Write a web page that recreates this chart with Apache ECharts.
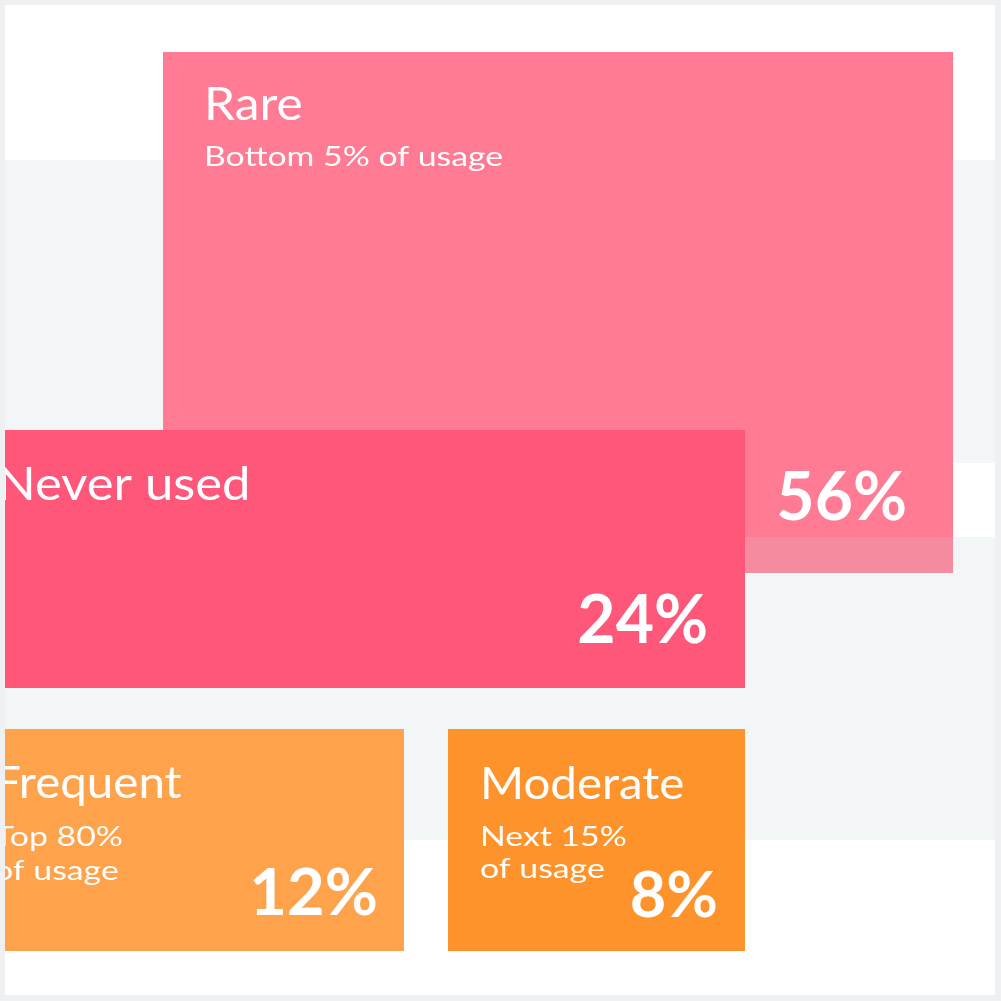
<!DOCTYPE html>
<html>
<head>
<meta charset="utf-8">
<script src="https://cdn.jsdelivr.net/npm/echarts@6/dist/echarts.min.js"></script>
<style>
  html, body { margin: 0; padding: 0; background: #fff; }
  #chart { width: 1001px; height: 1001px; }
</style>
</head>
<body>
<div id="chart"></div>
<script>
// data
var categories = ["Rare", "Never used", "Frequent", "Moderate"];
var shares = [56, 24, 12, 8];
var subtitles = ["Bottom 5% of usage", "", "Top 80%\nof usage", "Next 15%\nof usage"];

// look
var colors = ["#ff7b93", "#ff5779", "#ffa24c", "#ff932b"];
var FONT = "Lato, 'Open Sans', sans-serif";

// where each block sits on the 1001 x 1001 canvas (layout only)
var layout = [
	{ box: [163, 52, 953, 573], textX: 204, titleY: 105, titleSize: 46, subTop: 143, subLine: 30, pctX: 907, pctY: 499, pctSize: 66, fade: [537, 573] },
	{ box: [-40, 430, 745, 688], textX: -3, titleY: 485, titleSize: 47, pctX: 708, pctY: 622, pctSize: 66 },
	{ box: [-40, 729, 404, 951], textX: -6, titleY: 784, titleSize: 44, subTop: 821, subLine: 34, pctX: 378, pctY: 894, pctSize: 65 },
	{ box: [448, 729, 745, 951], textX: 480, titleY: 785, titleSize: 44, subTop: 822, subLine: 32, pctX: 718, pctY: 897, pctSize: 63 }
];

var chart = echarts.init(document.getElementById("chart"), null, { renderer: "canvas" });

function renderItem(params, api) {
	var i = api.value(0);
	var L = layout[i];
	var p0 = api.coord([L.box[0], L.box[1]]);
	var p1 = api.coord([L.box[2], L.box[3]]);
	var children = [];
	children.push({
		type: "rect",
		shape: { x: p0[0], y: p0[1], width: p1[0] - p0[0], height: p1[1] - p0[1] },
		style: { fill: colors[i] }
	});
	if (L.fade) {
		var f0 = api.coord([L.box[0], L.fade[0]]);
		var f1 = api.coord([L.box[2], L.fade[1]]);
		children.push({
			type: "rect",
			shape: { x: f0[0], y: f0[1], width: f1[0] - f0[0], height: f1[1] - f0[1] },
			style: { fill: "#f48b9f" }
		});
	}
	var t = api.coord([L.textX, L.titleY]);
	children.push({
		type: "text",
		x: t[0],
		y: t[1],
		scaleX: 1.08,
		style: {
			text: categories[i],
			fill: "#fff",
			fontFamily: FONT,
			fontWeight: 400,
			fontSize: L.titleSize,
			align: "left",
			verticalAlign: "middle"
		}
	});
	if (subtitles[i]) {
		var s = api.coord([L.textX, L.subTop]);
		children.push({
			type: "text",
			x: s[0],
			y: s[1],
			scaleX: 1.3,
			style: {
				text: subtitles[i],
				fill: "#fff",
				fontFamily: FONT,
				fontWeight: 400,
				fontSize: 26,
				lineHeight: L.subLine,
				align: "left",
				verticalAlign: "top"
			}
		});
	}
	var p = api.coord([L.pctX, L.pctY]);
	children.push({
		type: "text",
		x: p[0],
		y: p[1],
		style: {
			text: api.value(1) + "%",
			fill: "#fff",
			fontFamily: FONT,
			fontWeight: 700,
			fontSize: L.pctSize,
			align: "right",
			verticalAlign: "middle"
		}
	});
	return { type: "group", children: children };
}

var option = {
	backgroundColor: "#ffffff",
	animation: false,
	grid: { left: 0, right: 0, top: 0, bottom: 0 },
	xAxis: { type: "value", min: 0, max: 1001, show: false },
	yAxis: { type: "value", min: 0, max: 1001, inverse: true, show: false },
	graphic: [
		// light band behind the blocks
		{ type: "rect", z: 0, shape: { x: 0, y: 160, width: 1001, height: 680 }, style: { fill: "#f3f6f7" } },
		{ type: "rect", z: 0, shape: { x: 953, y: 463, width: 48, height: 74 }, style: { fill: "#ffffff" } },
		// frame
		{ type: "rect", z: 50, shape: { x: 0, y: 0, width: 1001, height: 5 }, style: { fill: "#eef0f1" } },
		{ type: "rect", z: 50, shape: { x: 0, y: 995, width: 1001, height: 6 }, style: { fill: "#eef0f1" } },
		{ type: "rect", z: 50, shape: { x: 0, y: 0, width: 5, height: 1001 }, style: { fill: "#eef0f1" } },
		{ type: "rect", z: 50, shape: { x: 995, y: 0, width: 6, height: 1001 }, style: { fill: "#eef0f1" } }
	],
	series: [
		{
			type: "custom",
			z: 5,
			renderItem: renderItem,
			encode: { x: -1, y: -1 },
			data: shares.map(function (v, i) {
				return { name: categories[i], value: [i, v] };
			})
		}
	]
};

chart.setOption(option);
</script>
</body>
</html>
